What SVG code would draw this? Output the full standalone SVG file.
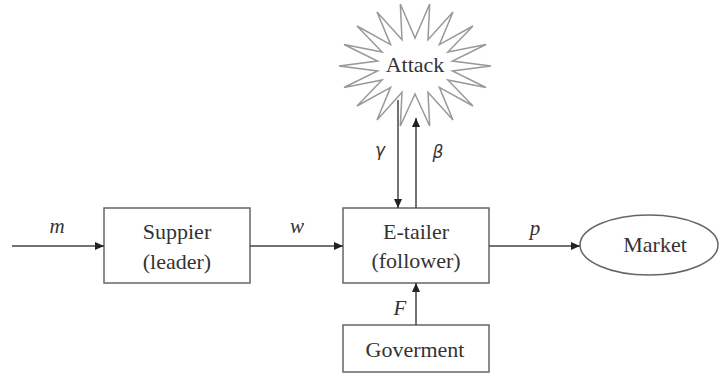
<svg xmlns="http://www.w3.org/2000/svg" width="721" height="376" viewBox="0 0 721 376">
<style>
.box{fill:#fff;stroke:#666;stroke-width:1.5}
.t{font-family:"Times New Roman",Tinos,"Liberation Serif",serif;font-size:22px;fill:#333;text-anchor:middle}
.v{font-family:"Times New Roman",Tinos,"Liberation Serif",serif;font-size:21px;font-style:italic;fill:#333;text-anchor:middle}
.g{font-family:"DejaVu Sans","Liberation Sans",sans-serif;font-size:17px;font-style:italic;fill:#333;text-anchor:middle}
.ln{stroke:#444;stroke-width:1.5;fill:none;marker-end:url(#ah)}
</style>
<defs>
<marker id="ah" markerWidth="9" markerHeight="8" refX="9" refY="4" orient="auto" markerUnits="userSpaceOnUse">
<path d="M0,0 L9,4 L0,8 z" fill="#222"/>
</marker>
</defs>
<rect width="721" height="376" fill="#fff"/>
<g id="attack">
<polygon fill="#fff" stroke="#999" stroke-width="1.5" stroke-linejoin="miter" points="400.3,4 415,38 429.7,4 428,39.7 453,12 439.4,44.6 473,26 447.9,52 486,44.5 452.4,61.1 491,66 452.4,70.9 486,87.5 447.9,80 473,106 439.4,87.4 453,120 428,92.3 429.7,126 415,94 400.3,126 402,92.3 377,120 390.6,87.4 357,106 382.1,80 344,87.5 377.6,70.9 339,66 377.6,61.1 344,44.5 382.1,52 357,26 390.6,44.6 377,12 402,39.7"/>
<text class="t" x="415" y="72">Attack</text>
</g>
<g id="supplier">
<rect class="box" x="104" y="208" width="146" height="75"/>
<text class="t" x="177" y="239">Suppier</text>
<text class="t" x="177" y="269">(leader)</text>
</g>
<g id="etailer">
<rect class="box" x="343" y="208" width="146" height="75"/>
<text class="t" x="416" y="239">E-tailer</text>
<text class="t" x="416" y="268">(follower)</text>
</g>
<g id="market">
<ellipse class="box" cx="649" cy="245" rx="69" ry="30"/>
<text class="t" x="655" y="252">Market</text>
</g>
<g id="government">
<rect class="box" x="343" y="325" width="146" height="47"/>
<text class="t" x="415" y="357">Goverment</text>
</g>
<g id="connectors">
<line class="ln" x1="12" y1="246" x2="104" y2="246"/>
<line class="ln" x1="250" y1="246" x2="343" y2="246"/>
<line class="ln" x1="489" y1="246" x2="580" y2="246"/>
<line class="ln" x1="416" y1="325" x2="416" y2="283"/>
<line class="ln" x1="398" y1="100" x2="398" y2="208"/>
<line class="ln" x1="416" y1="208" x2="416" y2="118"/>
<text class="v" x="57" y="233">m</text>
<text class="v" x="297" y="233">w</text>
<text class="v" x="535" y="235">p</text>
<text class="v" x="400" y="315">F</text>
<text class="g" x="380" y="156">γ</text>
<text class="g" x="438" y="158">β</text>
</g>
</svg>
